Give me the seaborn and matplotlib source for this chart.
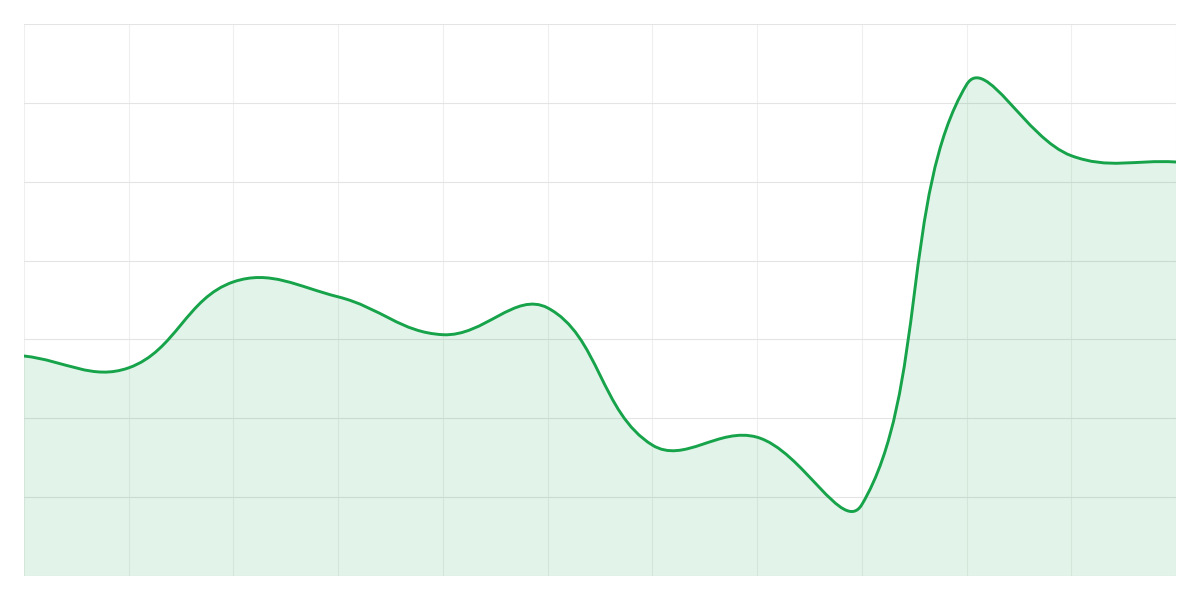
import numpy as np
import matplotlib
matplotlib.use("Agg")
import matplotlib.pyplot as plt
from matplotlib.path import Path
from matplotlib.patches import PathPatch
import seaborn as sns

# data (12 points, y in grid units of 10)
x_idx = list(range(12))
values = [27.9, 26.4, 37.3, 35.4, 30.6, 34.0, 16.6, 17.6, 9.05, 62.3, 53.3, 52.5]
y_max = 70
y_ticks = [0, 10, 20, 30, 40, 50, 60, 70]

line_color = "#16a34a"

sns.set_theme(style="whitegrid")
fig = plt.figure(figsize=(12, 6), dpi=100)
ax = fig.add_axes([0.02, 0.04, 0.96, 0.92])

ax.set_xlim(0, len(values) - 1)
ax.set_ylim(0, y_max)

# pixel size of one data unit, used for Chart.js-style tension (0.4)
sx = 1152 / (len(values) - 1)
sy = 552 / y_max
tension = 0.4

pts = np.column_stack([x_idx, values]).astype(float)
n = len(pts)
cps = []
for i in range(n):
    prev = pts[max(i - 1, 0)]
    cur = pts[i]
    nxt = pts[min(i + 1, n - 1)]
    d01 = np.hypot((cur[0] - prev[0]) * sx, (cur[1] - prev[1]) * sy)
    d12 = np.hypot((nxt[0] - cur[0]) * sx, (nxt[1] - cur[1]) * sy)
    tot = d01 + d12
    fa = tension * d01 / tot if tot else 0
    fb = tension * d12 / tot if tot else 0
    c1 = cur - fa * (nxt - prev)
    c2 = cur + fb * (nxt - prev)
    c1[1] = min(max(c1[1], 0), y_max)
    c2[1] = min(max(c2[1], 0), y_max)
    cps.append((c1, c2))

verts = [tuple(pts[0])]
codes = [Path.MOVETO]
for i in range(n - 1):
    verts += [tuple(cps[i][1]), tuple(cps[i + 1][0]), tuple(pts[i + 1])]
    codes += [Path.CURVE4] * 3

line_path = Path(verts, codes)
fill_path = Path(verts + [(pts[-1][0], 0), (pts[0][0], 0), verts[0]],
                 codes + [Path.LINETO, Path.LINETO, Path.CLOSEPOLY])

ax.add_patch(PathPatch(fill_path, facecolor=line_color, alpha=0.12,
                       edgecolor="none", zorder=2))
ax.add_patch(PathPatch(line_path, facecolor="none", edgecolor=line_color,
                       linewidth=2.1, zorder=3, capstyle="round",
                       joinstyle="round"))

ax.set_xticks(x_idx)
ax.set_yticks(y_ticks)
ax.set_xticklabels([])
ax.set_yticklabels([])
ax.tick_params(length=0)
ax.xaxis.grid(True, color="#efefef", linewidth=0.8)
ax.yaxis.grid(True, color="#e4e4e4", linewidth=0.8)
ax.set_axisbelow(True)
for side in ["top", "bottom", "left", "right"]:
    ax.spines[side].set_visible(False)
ax.set_facecolor("white")

fig.savefig("out.png", dpi=100, facecolor="white")
